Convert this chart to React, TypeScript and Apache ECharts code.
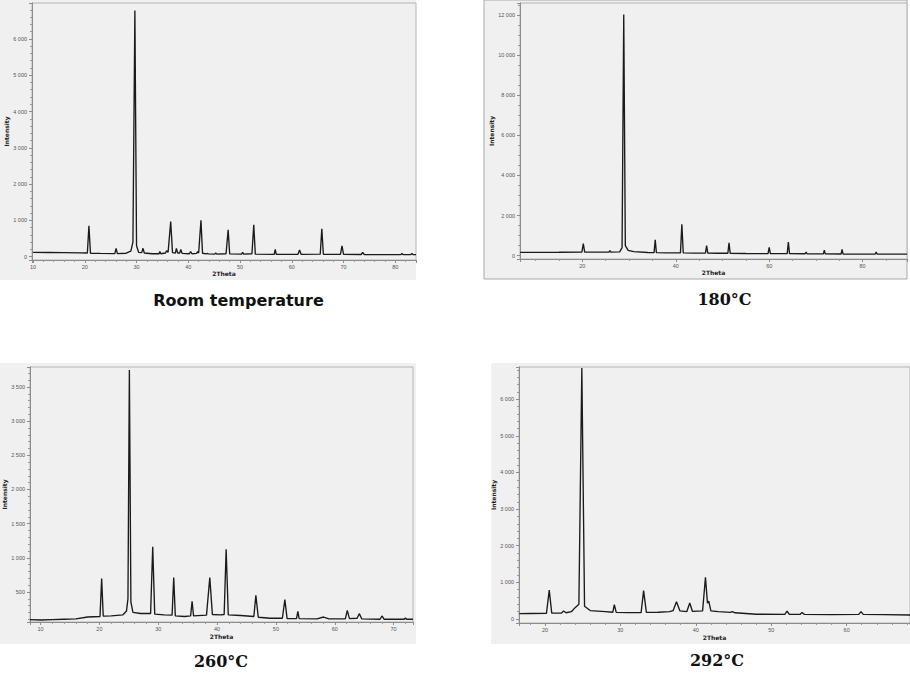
import React, { useEffect, useRef } from "react";
import * as echarts from "echarts";

// Panel titles
const panelTitles = ["Room temperature", "180°C", "260°C", "292°C"];

// Diffraction patterns: [2Theta, Intensity]
const roomTemp: number[][] = [
  [10, 120], [13, 115], [16, 110], [19, 105], [20.5, 100], [20.8, 850], [21.1, 95], [23, 90],
  [25.8, 85], [26.05, 230], [26.3, 85], [28, 95], [28.9, 150], [29.3, 400], [29.68, 6780],
  [30.0, 300], [30.4, 120], [31.0, 110], [31.25, 230], [31.5, 100], [33, 80], [34.35, 80],
  [34.5, 140], [34.7, 80], [35.6, 100], [35.8, 165], [36.1, 120], [36.6, 970], [36.95, 110],
  [37.5, 100], [37.7, 230], [37.95, 100], [38.35, 100], [38.55, 200], [38.8, 90], [40.2, 80],
  [40.45, 140], [40.7, 80], [41.6, 90], [41.8, 140], [42.0, 100], [42.45, 1000], [42.75, 95],
  [43.5, 75], [43.7, 95], [43.9, 75], [45.1, 70], [45.3, 100], [45.5, 70], [47.3, 80],
  [47.7, 740], [48.0, 75], [50.3, 70], [50.5, 120], [50.7, 70], [52.3, 80], [52.65, 880],
  [52.95, 70], [56.6, 65], [56.8, 200], [57.0, 65], [61.2, 65], [61.5, 185], [61.8, 65],
  [65.5, 70], [65.8, 770], [66.1, 65], [69.4, 65], [69.7, 300], [70.0, 65], [73.4, 60],
  [73.7, 120], [74.0, 60], [77, 55], [81.1, 55], [81.3, 90], [81.5, 55], [83.0, 55],
  [83.2, 90], [83.4, 55], [84, 55],
];

const t180: number[][] = [
  [6.7, 165], [10, 165], [15, 170], [19.9, 180], [20.2, 600], [20.5, 175], [23, 180],
  [25.7, 180], [25.9, 250], [26.1, 180], [28.0, 190], [28.5, 400], [28.86, 12030], [29.2, 500],
  [29.8, 265], [31, 200], [34, 160], [35.35, 150], [35.6, 790], [35.85, 150], [38, 140],
  [41.0, 140], [41.3, 1570], [41.6, 140], [44, 130], [46.35, 130], [46.6, 500], [46.85, 125],
  [49, 120], [51.15, 120], [51.4, 645], [51.65, 115], [55, 110], [59.75, 105], [60.0, 410],
  [60.25, 105], [62, 100], [63.85, 100], [64.1, 680], [64.35, 100], [67.7, 95], [67.9, 180],
  [68.1, 95], [71.6, 90], [71.8, 280], [72.0, 90], [75.4, 85], [75.6, 315], [75.8, 85],
  [80, 80], [82.7, 80], [82.9, 180], [83.1, 80], [89.5, 75],
];

const t260: number[][] = [
  [8.2, 95], [10, 90], [12, 95], [14, 100], [16, 105], [18, 133], [20.1, 140], [20.38, 695],
  [20.65, 145], [22, 150], [24, 165], [24.6, 220], [24.85, 400], [25.09, 3750], [25.35, 350],
  [25.7, 200], [27, 185], [28.7, 185], [29.06, 1160], [29.4, 175], [31, 165], [32.35, 160],
  [32.63, 710], [32.9, 150], [34.5, 140], [35.5, 150], [35.75, 363], [36.0, 150], [38.2, 160],
  [38.76, 710], [39.2, 170], [40.5, 165], [41.2, 170], [41.54, 1125], [41.9, 165], [44, 155],
  [46.25, 140], [46.59, 450], [47.0, 130], [49, 115], [51.1, 115], [51.52, 388], [51.9, 110],
  [53.5, 110], [53.73, 217], [53.95, 110], [57, 105], [58.1, 133], [59, 105], [61.8, 105],
  [62.13, 231], [62.5, 110], [63.8, 115], [64.17, 182], [64.6, 105], [67.7, 100], [68.03, 148],
  [68.4, 100], [71.8, 100], [72.0, 119], [72.2, 100], [73.3, 100],
];

const t292: number[][] = [
  [16.6, 145], [18, 150], [20.2, 155], [20.57, 790], [20.9, 160], [22.2, 165], [22.47, 218],
  [22.8, 170], [23.5, 200], [24.0, 310], [24.5, 400], [24.89, 6855], [25.25, 350], [26, 230],
  [28, 200], [29.0, 185], [29.2, 390], [29.45, 180], [31, 175], [32.75, 175], [33.08, 773],
  [33.45, 180], [35, 185], [36.5, 200], [37.0, 230], [37.44, 473], [37.9, 220], [38.8, 200],
  [39.2, 436], [39.55, 210], [40.9, 220], [41.28, 1136], [41.55, 430], [41.72, 490], [42.0, 220],
  [43, 200], [44.6, 180], [44.85, 200], [45.2, 170], [48, 130], [51.8, 125], [52.1, 218],
  [52.4, 125], [53.8, 125], [54.1, 180], [54.4, 125], [58, 120], [61.6, 125], [61.9, 200],
  [62.2, 125], [65, 120], [68.4, 110],
];

const patterns = [roomTemp, t180, t260, t292];

// axis ranges
const xMins = [9.8, 6.65, 8.2, 16.56];
const xMaxs = [84, 89.5, 73.3, 68.4];
const xSplits = [7, 4, 6, 5];
const xMinorSplits = [5, 4, 5, 5];
const yMins = [-92, -165, 60, -109];
const yMaxs = [6990, 12600, 3793, 6880];
const ySplits = [7, 6, 7, 7];
const yMinorSplits = [5, 4, 5, 5];

const fmt = (v: number) =>
  String(Math.round(v)).replace(/\B(?=(\d{3})+(?!\d))/g, " ");

export default function App() {
  const ref = useRef<HTMLDivElement>(null);
  useEffect(() => {
    if (!ref.current) return;
    const chart = echarts.init(ref.current, undefined, { renderer: "svg" });

    const grids = [
      { left: 32, top: 3, width: 384, height: 257 },
      { left: 520, top: 3, width: 387, height: 256 },
      { left: 30, top: 367, width: 383, height: 255 },
      { left: 519, top: 367, width: 391, height: 256 },
    ];
    const xNameGaps = [9, 10, 11, 11];
    const yNameGaps = [21, 24, 20, 20];

    const axisColor = "#8c8c8c";
    const labelStyle = {
      fontSize: 5.5,
      color: "#555",
      fontFamily: "Liberation Sans",
      showMinLabel: false,
      showMaxLabel: false,
      formatter: fmt,
    };
    const nameStyle = {
      fontFamily: "DejaVu Sans",
      fontWeight: "bold" as const,
      fontSize: 6,
      color: "#222",
    };

    const option: any = {
      animation: false,
      backgroundColor: "#ffffff",
      grid: grids.map((g) => ({
        ...g,
        show: true,
        backgroundColor: "#f0f0f0",
        borderColor: "#b4b4b4",
        borderWidth: 1,
        containLabel: false,
      })),
      xAxis: grids.map((_, i) => ({
        type: "value",
        gridIndex: i,
        min: xMins[i],
        max: xMaxs[i],
        splitNumber: xSplits[i],
        name: "2Theta",
        nameLocation: "middle",
        nameGap: xNameGaps[i],
        nameTextStyle: nameStyle,
        axisLine: { show: true, onZero: false, lineStyle: { color: axisColor, width: 1 } },
        axisTick: { show: true, length: 3, lineStyle: { color: axisColor } },
        minorTick: { show: true, splitNumber: xMinorSplits[i], length: 2, lineStyle: { color: "#9a9a9a" } },
        axisLabel: { ...labelStyle, margin: 4 },
        splitLine: { show: false },
        minorSplitLine: { show: false },
      })),
      yAxis: grids.map((_, i) => ({
        type: "value",
        gridIndex: i,
        min: yMins[i],
        max: yMaxs[i],
        splitNumber: ySplits[i],
        name: "Intensity",
        nameLocation: "middle",
        nameGap: yNameGaps[i],
        nameTextStyle: nameStyle,
        axisLine: { show: true, onZero: false, lineStyle: { color: axisColor, width: 1 } },
        axisTick: { show: true, length: 3, lineStyle: { color: axisColor } },
        minorTick: { show: true, splitNumber: yMinorSplits[i], length: 2, lineStyle: { color: "#9a9a9a" } },
        axisLabel: { ...labelStyle, margin: 5 },
        splitLine: { show: false },
        minorSplitLine: { show: false },
      })),
      series: patterns.map((d, i) => ({
        type: "line",
        xAxisIndex: i,
        yAxisIndex: i,
        data: d,
        showSymbol: false,
        symbol: "none",
        clip: true,
        lineStyle: { color: "#1a1a1a", width: 1.35 },
      })),
      graphic: [
        { type: "rect", z: -10, silent: true, shape: { x: 0, y: 0, width: 416, height: 280 }, style: { fill: "#f0f0f0" } },
        { type: "rect", z: -10, silent: true, shape: { x: 484, y: 0, width: 423, height: 279 }, style: { fill: "#f0f0f0", stroke: "#a8a8a8", lineWidth: 1 } },
        { type: "rect", z: -10, silent: true, shape: { x: 0, y: 363, width: 416, height: 281 }, style: { fill: "#f0f0f0" } },
        { type: "rect", z: -10, silent: true, shape: { x: 491, y: 363, width: 419, height: 281 }, style: { fill: "#f0f0f0" } },
        {
          type: "text", x: 238.5, y: 300,
          style: { text: panelTitles[0], font: "bold 16px 'DejaVu Sans'", fill: "#111", textAlign: "center", textVerticalAlign: "middle" },
        },
        {
          type: "text", x: 724.5, y: 299,
          style: { text: panelTitles[1], font: "bold 16px 'DejaVu Serif'", fill: "#111", textAlign: "center", textVerticalAlign: "middle" },
        },
        {
          type: "text", x: 221, y: 661,
          style: { text: panelTitles[2], font: "bold 16px 'DejaVu Serif'", fill: "#111", textAlign: "center", textVerticalAlign: "middle" },
        },
        {
          type: "text", x: 717, y: 660,
          style: { text: panelTitles[3], font: "bold 16px 'DejaVu Serif'", fill: "#111", textAlign: "center", textVerticalAlign: "middle" },
        },
      ],
    };
    chart.setOption(option);
    return () => chart.dispose();
  }, []);
  return (
    <div
      ref={ref}
      style={{ position: "fixed", left: 0, top: 0, width: 910, height: 679 }}
    />
  );
}
